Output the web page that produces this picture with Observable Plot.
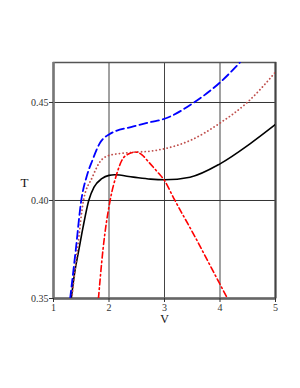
<!DOCTYPE html>
<html><head><meta charset="utf-8">
<script src="https://cdn.jsdelivr.net/npm/d3@7"></script>
<script src="https://cdn.jsdelivr.net/npm/@observablehq/plot@0.6"></script>
<style>body{margin:0;background:#fff;} svg{display:block;}</style>
</head><body><div id="chart"></div>
<script>
const blackV = [1.32, 1.38, 1.455, 1.53, 1.635, 1.73, 1.87, 2.0, 2.1, 2.44, 2.75, 3.0, 3.46, 4.0, 4.54, 5.0];
const blackT = [0.35, 0.363, 0.3745, 0.386, 0.40, 0.4068, 0.4111, 0.4128, 0.4131, 0.4119, 0.4109, 0.4106, 0.4119, 0.4187, 0.4289, 0.4388];
const blueV = [1.30, 1.40, 1.50, 1.60, 1.70, 1.83, 2.0, 2.44, 2.75, 3.0, 3.53, 4.0, 4.36];
const blueT = [0.35, 0.3745, 0.40, 0.4125, 0.4204, 0.4290, 0.4337, 0.4378, 0.440, 0.4417, 0.450, 0.4602, 0.4704];
const brownV = [1.33, 1.43, 1.54, 1.70, 1.82, 2.0, 2.44, 2.75, 3.0, 3.46, 4.0, 4.49, 5.0];
const brownT = [0.35, 0.3745, 0.40, 0.4119, 0.4190, 0.423, 0.4246, 0.4252, 0.4264, 0.4306, 0.4395, 0.450, 0.4655];
const redV = [1.81, 1.89, 2.02, 2.14, 2.23, 2.35, 2.48, 2.6, 2.69, 2.89, 3.0, 3.16, 3.53, 3.99, 4.13];
const redT = [0.35, 0.3745, 0.40, 0.4136, 0.4204, 0.4237, 0.4247, 0.4232, 0.4204, 0.4140, 0.4102, 0.4015, 0.3825, 0.3578, 0.3503];
const xTicks = [1, 2, 3, 4, 5];
const yTicks = [0.35, 0.40, 0.45];
const xGrid = [2, 3, 4];
const yGrid = [0.40, 0.45];

const pts = (V, T) => V.map((v, i) => ({v, t: T[i]}));
const font = "'Liberation Serif', 'DejaVu Serif', serif";

const chart = Plot.plot({
  width: 300, height: 388,
  marginLeft: 53, marginRight: 25, marginTop: 62, marginBottom: 90,
  style: {fontFamily: font, fontSize: "10px", color: "#333", background: "#fff"},
  x: {domain: [1, 5]},
  y: {domain: [0.35, 0.4704]},
  marks: [
    Plot.ruleX(xGrid, {stroke: "#444", strokeWidth: 1}),
    Plot.ruleY(yGrid, {stroke: "#333", strokeWidth: 1}),
    Plot.frame({stroke: "#555", strokeWidth: 1.5}),
    Plot.ruleX([1], {stroke: "#777", strokeWidth: 2.5}),
    Plot.ruleY([0.35], {stroke: "#666", strokeWidth: 2.5}),
    Plot.ruleX([5], {stroke: "#444", strokeWidth: 2}),
    Plot.line(pts(blackV, blackT), {x: "v", y: "t", stroke: "#000", strokeWidth: 1.6, curve: "monotone-x", clip: true}),
    Plot.line(pts(brownV, brownT), {x: "v", y: "t", stroke: "#c0504d", strokeWidth: 1.8, strokeDasharray: "0.1,3.6", strokeLinecap: "round", curve: "monotone-x", clip: true}),
    Plot.line(pts(redV, redT), {x: "v", y: "t", stroke: "#ff0000", strokeWidth: 1.6, strokeDasharray: "6,3,1.5,3", curve: "monotone-x", clip: true}),
    Plot.line(pts(blueV, blueT), {x: "v", y: "t", stroke: "#0000ff", strokeWidth: 1.8, strokeDasharray: "8,4", curve: "monotone-x", clip: true}),
    Plot.axisX({ticks: xTicks, tickFormat: d => String(d), tickSize: 4, label: null, tickPadding: 1}),
    Plot.axisY({ticks: yTicks, tickFormat: d => d.toFixed(2), tickSize: 4, label: null, tickPadding: 1}),
    Plot.text(["T"], {frameAnchor: "left", dx: -33, dy: 2, fontSize: 13, fill: "#111", fontFamily: font}),
    Plot.text(["V"], {frameAnchor: "bottom", dy: 24, fontSize: 12, fill: "#111", fontFamily: font})
  ]
});
document.getElementById("chart").appendChild(chart);
</script>
</body></html>
